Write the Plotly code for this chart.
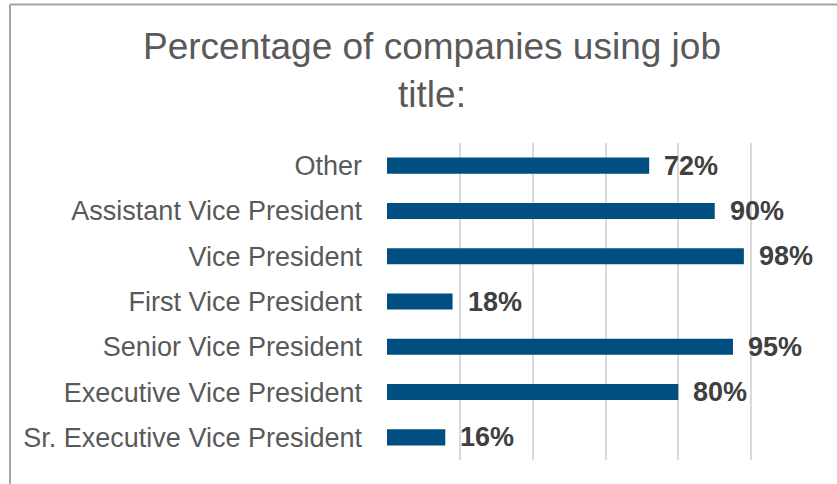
import plotly.graph_objects as go

# Job titles (bottom to top) and share of companies using each
titles = [
    "Sr. Executive Vice President",
    "Executive Vice President",
    "Senior Vice President",
    "First Vice President",
    "Vice President",
    "Assistant Vice President",
    "Other",
]
shares = [0.16, 0.80, 0.95, 0.18, 0.98, 0.90, 0.72]
x_ticks = [0, 0.2, 0.4, 0.6, 0.8, 1.0, 1.2]

W, H = 837, 484
L, R, T, B = 387, 13, 143, 24
pw, ph = W - L - R, H - T - B

fig = go.Figure()
fig.add_trace(go.Bar(
    x=shares,
    y=titles,
    orientation="h",
    width=0.355,
    marker=dict(color="#004f80", line=dict(width=0)),
    hoverinfo="skip",
))

# Value labels to the right of each bar
for t, v in zip(titles, shares):
    fig.add_annotation(
        x=v, y=t, xref="x", yref="y",
        text=f"<b>{round(v * 100)}%</b>",
        showarrow=False, xanchor="left", yanchor="middle",
        xshift=13,
        font=dict(family="Liberation Sans, Arial", size=27, color="#404040"),
    )

# Outer chart frame (left and top edges)
def px_x(p):
    return (p - L) / pw

def px_y(p):
    return (H - B - p) / ph

frame = dict(color="#a6a6a0", width=2)
fig.add_shape(type="line", xref="paper", yref="paper",
              x0=px_x(10), x1=px_x(10), y0=px_y(4.5), y1=px_y(H + 5), line=frame)
fig.add_shape(type="line", xref="paper", yref="paper",
              x0=px_x(10), x1=px_x(W + 5), y0=px_y(4.5), y1=px_y(4.5), line=frame)

fig.update_layout(
    width=W, height=H,
    margin=dict(l=L, r=R, t=T, b=B, pad=0),
    paper_bgcolor="white",
    plot_bgcolor="white",
    showlegend=False,
    title=dict(
        text="Percentage of companies using job<br>title:",
        x=432 / W, xanchor="center",
        y=1 - 59 / H, yanchor="middle",
        font=dict(family="Liberation Sans, Arial", size=37, color="#595959"),
    ),
    xaxis=dict(
        range=[0, 1.2],
        tickvals=x_ticks,
        showticklabels=False,
        showgrid=True, gridcolor="#d9d9d9", gridwidth=2,
        zeroline=False, showline=False, fixedrange=True,
    ),
    yaxis=dict(
        categoryorder="array", categoryarray=titles,
        range=[-0.5, len(titles) - 0.5],
        showgrid=False, zeroline=False, showline=False,
        ticks="", ticklabelstandoff=24,
        tickfont=dict(family="Liberation Sans, Arial", size=27, color="#595959"),
        fixedrange=True,
    ),
)

fig.write_html("out.html")
